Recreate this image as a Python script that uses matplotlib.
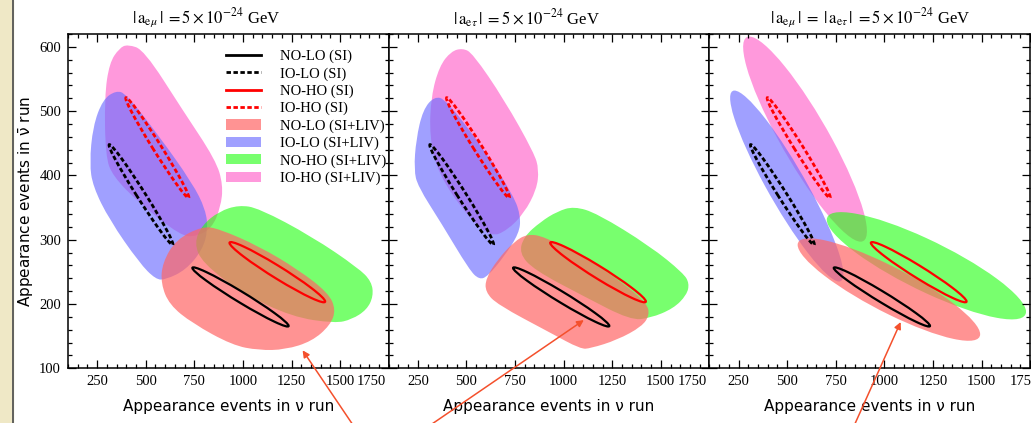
import numpy as np
import matplotlib
matplotlib.use('Agg')
import matplotlib.pyplot as plt
import matplotlib.ticker as mtick
from matplotlib.path import Path
from matplotlib.patches import PathPatch, Patch, Rectangle
from matplotlib.lines import Line2D
from matplotlib.transforms import Affine2D, ScaledTranslation

plt.rcParams['font.family'] = ['Liberation Serif', 'DejaVu Serif']
plt.rcParams['mathtext.fontset'] = 'stix'

# axis ranges / ticks
x_range = (100, 1750)
y_range = (100, 620)
x_ticks = [250, 500, 750, 1000, 1250, 1500, 1750]
y_ticks = [100, 200, 300, 400, 500, 600]

titles = [r'$|\,\mathrm{a}_{\mathrm{e}\mu}\,|\;=5\times10^{-24}$ GeV',
          r'$|\,\mathrm{a}_{\mathrm{e}\tau}\,|\;=5\times10^{-24}$ GeV',
          r'$|\,\mathrm{a}_{\mathrm{e}\mu}\,|\;=\;|\,\mathrm{a}_{\mathrm{e}\tau}\,|\;=5\times10^{-24}$ GeV']

# SI contours (same in every panel): tips of long axis + half-width vector
si_labels = ['NO-LO (SI)', 'IO-LO (SI)', 'NO-HO (SI)', 'IO-HO (SI)']
si_tip_a = [(740, 256), (313, 448), (931, 295), (399, 521)]
si_tip_b = [(1235, 166), (638, 292), (1423, 204), (720, 365)]
si_half = [(0, 9.5), (25, 0), (0, 11), (25, 0)]
si_colors = ['black', 'black', 'red', 'red']
si_dashed = [False, True, False, True]

liv_labels = ['NO-LO (SI+LIV)', 'IO-LO (SI+LIV)', 'NO-HO (SI+LIV)', 'IO-HO (SI+LIV)']
p1_no_lo = [(791, 321), (877, 317), (1082, 290), (1287, 253), (1440, 217), (1478, 191),
            (1449, 167), (1355, 142), (1218, 129), (1082, 128), (945, 136), (740, 170),
            (621, 199), (578, 232), (586, 264), (655, 300)]
p1_io_lo = [(347, 532), (399, 527), (569, 461), (740, 388), (808, 347), (820, 315),
            (791, 284), (706, 253), (603, 238), (552, 238), (467, 264), (313, 331),
            (228, 383), (211, 419), (228, 476), (279, 518)]
p1_no_ho = [(979, 354), (1082, 349), (1355, 305), (1594, 256), (1662, 235), (1671, 212),
            (1637, 191), (1560, 176), (1474, 170), (1252, 180), (996, 217), (791, 264),
            (749, 295), (791, 323), (877, 344)]
p1_io_ho = [(407, 604), (492, 595), (689, 502), (860, 424), (898, 385), (885, 350),
            (840, 318), (760, 305), (680, 306), (467, 357), (330, 399), (293, 430),
            (288, 523), (313, 575), (364, 598)]

p2_no_lo = [(814, 309), (899, 305), (1104, 274), (1309, 232), (1428, 201), (1442, 183),
            (1403, 165), (1275, 144), (1138, 131), (1087, 130), (933, 155), (660, 199),
            (597, 219), (600, 240), (660, 269), (745, 297)]
p2_io_lo = [(335, 523), (395, 518), (592, 440), (745, 367), (779, 336), (771, 310),
            (694, 274), (609, 243), (566, 238), (515, 253), (370, 326), (250, 383),
            (230, 409), (241, 456), (276, 502)]
p2_no_ho = [(1053, 352), (1172, 341), (1445, 290), (1616, 248), (1647, 232), (1633, 214),
            (1565, 193), (1445, 178), (1343, 175), (1104, 212), (848, 253), (771, 279),
            (796, 305), (882, 328), (967, 344)]
p2_io_ho = [(480, 598), (532, 590), (694, 518), (848, 435), (873, 409), (861, 378),
            (796, 341), (711, 315), (626, 304), (506, 336), (352, 404), (310, 461),
            (318, 523), (361, 570), (421, 593)]

# panel 3 regions are elongated ellipses: tips + half-width vector
p3_tip_a = [(554, 292), (229, 532), (704, 331), (306, 616)]
p3_tip_b = [(1493, 153), (767, 235), (1729, 188), (878, 297)]
p3_half = [(0, 39), (112, 0), (0, 43), (140, 0)]

# fill colours (NO-LO, IO-LO, NO-HO, IO-HO) and opacity
liv_colors = ['#FF6666', '#6D6DFF', '#1EFF0D', '#FF55C6']
liv_alpha = [0.7, 0.65, 0.6, 0.6]
draw_order = [3, 1, 2, 0]

# arrows pointing at a spot in each panel
arrow_heads = [(1307, 128), (1104, 175), (1084, 172)]
arrow_tails = [(0.91, -0.2), (0.084, -0.2), (0.438, -0.2)]
title_xpos = [0.43, 0.43, 0.5]


def smooth_closed(pts):
    pts = np.asarray(pts, float)
    mids = (pts + np.roll(pts, -1, axis=0)) / 2
    verts = [mids[-1]]
    codes = [Path.MOVETO]
    for i in range(len(pts)):
        verts += [pts[i], mids[i]]
        codes += [Path.CURVE3, Path.CURVE3]
    verts.append(mids[-1])
    codes.append(Path.CLOSEPOLY)
    return Path(verts, codes)


def ellipse_path(tip_a, tip_b, half):
    a = np.array(tip_a, float)
    b = np.array(tip_b, float)
    c = (a + b) / 2
    u = (b - a) / 2
    tr = Affine2D.from_values(u[0], u[1], half[0], half[1], c[0], c[1])
    return tr.transform_path(Path.unit_circle())


W, H = 1031., 423.
fig = plt.figure(figsize=(W / 100, H / 100), dpi=100)
pw = 320.7 / W
axes = [fig.add_axes([68 / W + i * pw, (H - 368.3) / H, pw, 334.3 / H]) for i in range(3)]

# beige strip of the slide on the left
fig.patches.append(Rectangle((0, 0), 12.5 / W, 1, transform=fig.transFigure,
                             color='#EFE8C6', zorder=-5))
fig.lines.append(Line2D([13 / W, 13 / W], [0, 1], transform=fig.transFigure,
                        color='#555555', lw=1.3))

blobs = [[p1_no_lo, p1_io_lo, p1_no_ho, p1_io_ho],
         [p2_no_lo, p2_io_lo, p2_no_ho, p2_io_ho]]

dash = (0, (1.6, 0.9))
for k, ax in enumerate(axes):
    for j in draw_order:
        if k < 2:
            path = smooth_closed(blobs[k][j])
        else:
            path = ellipse_path(p3_tip_a[j], p3_tip_b[j], p3_half[j])
        ax.add_patch(PathPatch(path, facecolor=liv_colors[j], alpha=liv_alpha[j],
                               edgecolor='none', zorder=1))
    for j in range(4):
        ax.add_patch(PathPatch(ellipse_path(si_tip_a[j], si_tip_b[j], si_half[j]),
                               facecolor='none', edgecolor=si_colors[j],
                               lw=2.0 if si_dashed[j] else 1.6,
                               linestyle=dash if si_dashed[j] else '-', zorder=3))

    ax.set_xlim(*x_range)
    ax.set_ylim(*y_range)
    ax.xaxis.set_major_locator(mtick.FixedLocator(x_ticks))
    ax.xaxis.set_minor_locator(mtick.MultipleLocator(50))
    ax.yaxis.set_major_locator(mtick.FixedLocator(y_ticks))
    ax.yaxis.set_minor_locator(mtick.MultipleLocator(20))
    ax.tick_params(which='both', direction='in', top=True, right=True, width=0.9,
                   labelsize=10.5, pad=5)
    ax.tick_params(which='major', length=5.5)
    ax.tick_params(which='minor', length=3)
    if k > 0:
        ax.tick_params(labelleft=False)
    for s in ax.spines.values():
        s.set_linewidth(1.1)

    ax.set_xlabel('Appearance events in ν run', family='DejaVu Sans', fontsize=11,
                  labelpad=8)
    ax.text(title_xpos[k], 1.012, titles[k], transform=ax.transAxes, ha='center',
            va='bottom', fontsize=12)

    shift = -17 if k < 2 else -6
    t = ax.xaxis.get_major_ticks()[-1]
    t.label1.set_transform(t.label1.get_transform() +
                           ScaledTranslation(shift / 100, 0, fig.dpi_scale_trans))

    ax.annotate('', xy=arrow_heads[k], xycoords='data', xytext=arrow_tails[k],
                textcoords='axes fraction', annotation_clip=False, zorder=10,
                arrowprops=dict(arrowstyle='-|>', color='#F4502C', lw=1.1,
                                mutation_scale=10, shrinkA=0, shrinkB=0))

axes[0].set_ylabel(r'Appearance events in $\bar{\mathrm{\nu}}$ run', family='DejaVu Sans',
                   math_fontfamily='dejavusans', fontsize=11, labelpad=2)

handles = []
for j in range(4):
    handles.append(Line2D([], [], color=si_colors[j], lw=2.0,
                          ls=dash if si_dashed[j] else '-'))
for j in range(4):
    handles.append(Patch(facecolor=liv_colors[j], alpha=liv_alpha[j], edgecolor='none'))
axes[0].legend(handles, si_labels + liv_labels, loc='upper left',
               bbox_to_anchor=(0.485, 0.962), frameon=False, fontsize=10.5,
               handlelength=2.4, handletextpad=1.3, labelspacing=0.27,
               borderpad=0.2, borderaxespad=0)

fig.savefig('out.png', dpi=100)
